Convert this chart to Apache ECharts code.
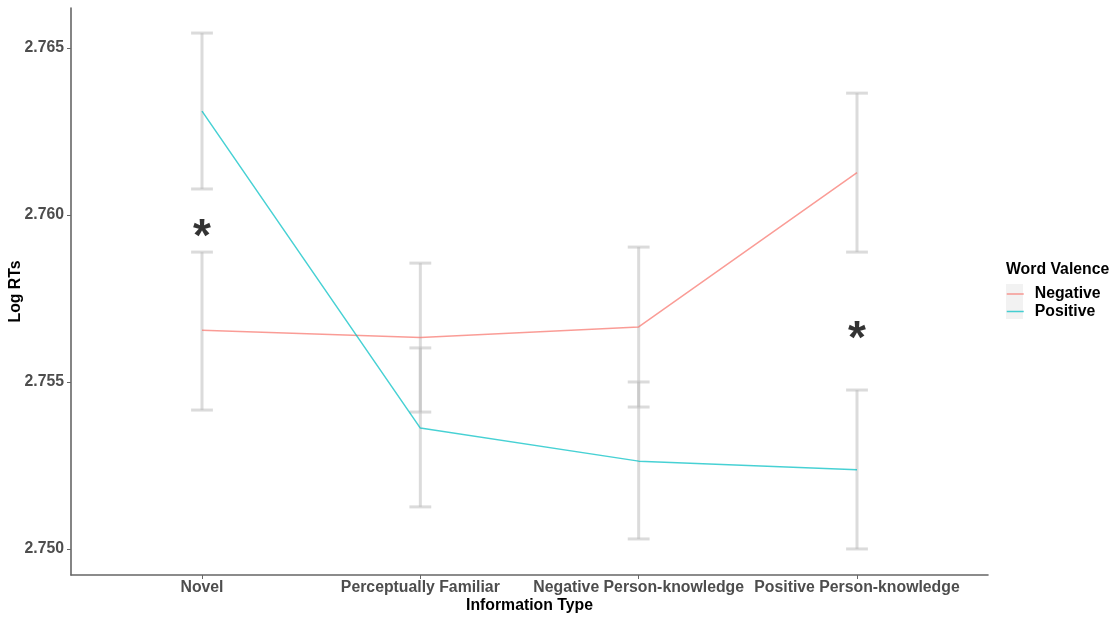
<!DOCTYPE html>
<html>
<head>
<meta charset="utf-8">
<script src="https://cdn.jsdelivr.net/npm/echarts@6/dist/echarts.min.js"></script>
<style>
  html, body { margin: 0; padding: 0; background: #ffffff; }
  #chart { width: 1118px; height: 617px; }
</style>
</head>
<body>
<div id="chart"></div>
<script>
// Information types on the x axis
const categories = ['Novel', 'Perceptually Familiar', 'Negative Person-knowledge', 'Positive Person-knowledge'];

// Mean log RTs and error-bar limits per word valence
const negativeMean  = [2.75655, 2.75633, 2.75665, 2.76127];
const negativeLower = [2.75416, 2.75410, 2.75425, 2.75889];
const negativeUpper = [2.75889, 2.75856, 2.75904, 2.76365];

const positiveMean  = [2.76311, 2.75362, 2.75263, 2.75237];
const positiveLower = [2.76078, 2.75126, 2.75030, 2.75000];
const positiveUpper = [2.76545, 2.75602, 2.75500, 2.75476];

// Y axis tick values
const yTicks = [2.750, 2.755, 2.760, 2.765];

// Significance markers: [category index, log RT]
const starMarks = [[0, 2.75961], [3, 2.75656]];

const FONT = '"Liberation Sans", Arial, sans-serif';
const FONT_SIZE = 15.8;
const NEG_COLOR = '#F8766D';
const POS_COLOR = '#00BFC4';
const LINE_OPACITY = 0.72;

const xIdx = categories.map((_, i) => i);
const negLine = xIdx.map(i => [i, negativeMean[i]]);
const posLine = xIdx.map(i => [i, positiveMean[i]]);
const errorData = xIdx.map(i => [i, negativeLower[i], negativeUpper[i]])
  .concat(xIdx.map(i => [i, positiveLower[i], positiveUpper[i]]));

function renderErrorBar(params, api) {
  const x = api.value(0);
  const lo = api.coord([x, api.value(1)]);
  const hi = api.coord([x, api.value(2)]);
  const half = api.size([0.1, 0])[0] / 2;
  const style = { stroke: 'rgba(190,190,190,0.55)', lineWidth: 3 };
  return {
    type: 'group',
    children: [
      { type: 'line', shape: { x1: hi[0], y1: hi[1], x2: lo[0], y2: lo[1] }, style: style },
      { type: 'line', shape: { x1: hi[0] - half, y1: hi[1], x2: hi[0] + half, y2: hi[1] }, style: style },
      { type: 'line', shape: { x1: lo[0] - half, y1: lo[1], x2: lo[0] + half, y2: lo[1] }, style: style }
    ]
  };
}

const chart = echarts.init(document.getElementById('chart'), null, { renderer: 'canvas' });

chart.setOption({
  animation: false,
  backgroundColor: '#ffffff',
  textStyle: { fontFamily: FONT },
  grid: { left: 71, right: 130, top: 8, bottom: 42, outerBoundsMode: 'none', containLabel: false },
  title: {
    text: 'Word Valence',
    left: 1006,
    top: 262,
    padding: 0,
    textStyle: { fontFamily: FONT, fontSize: FONT_SIZE, fontWeight: 'bold', color: '#000000' }
  },
  legend: {
    orient: 'vertical',
    left: 1006,
    top: 286,
    padding: 0,
    itemGap: 1.5,
    itemWidth: 17,
    itemHeight: 17,
    itemStyle: { opacity: 0 },
    lineStyle: { width: 1.5, opacity: LINE_OPACITY },
    data: ['Negative', 'Positive'],
    textStyle: { fontFamily: FONT, fontSize: FONT_SIZE, fontWeight: 'bold', color: '#000000', padding: [0, 0, 0, 6] }
  },
  graphic: [{
    type: 'rect',
    left: 1006,
    top: 284,
    z: -1,
    shape: { width: 17, height: 35 },
    style: { fill: '#f2f2f2' }
  }],
  xAxis: {
    type: 'value',
    min: -0.6,
    max: 3.6,
    name: 'Information Type',
    nameLocation: 'middle',
    nameGap: 23,
    nameMoveOverlap: false,
    nameTextStyle: { fontFamily: FONT, fontSize: FONT_SIZE, fontWeight: 'bold', color: '#000000' },
    splitLine: { show: false },
    axisLine: { show: true, onZero: false, lineStyle: { color: '#666666', width: 1.6 } },
    axisTick: { show: true, length: 4, customValues: xIdx, lineStyle: { color: '#666666', width: 1 } },
    axisLabel: {
      customValues: xIdx,
      margin: 5,
      fontFamily: FONT,
      fontSize: FONT_SIZE,
      fontWeight: 'bold',
      color: '#4d4d4d',
      formatter: v => categories[Math.round(v)]
    }
  },
  yAxis: {
    type: 'value',
    min: 2.74922,
    max: 2.76620,
    name: 'Log RTs',
    nameLocation: 'middle',
    nameGap: 47,
    nameMoveOverlap: false,
    nameTextStyle: { fontFamily: FONT, fontSize: FONT_SIZE, fontWeight: 'bold', color: '#000000' },
    splitLine: { show: false },
    axisLine: { show: true, onZero: false, lineStyle: { color: '#666666', width: 1.6 } },
    axisTick: { show: true, length: 4, customValues: yTicks, lineStyle: { color: '#666666', width: 1 } },
    axisLabel: {
      customValues: yTicks,
      margin: 7,
      fontFamily: FONT,
      fontSize: FONT_SIZE,
      fontWeight: 'bold',
      color: '#4d4d4d',
      formatter: v => v.toFixed(3)
    }
  },
  series: [
    {
      name: 'errorbars',
      type: 'custom',
      renderItem: renderErrorBar,
      data: errorData,
      encode: { x: 0, y: [1, 2] },
      z: 1,
      silent: true
    },
    {
      name: 'Negative',
      type: 'line',
      data: negLine,
      symbol: 'none',
      color: NEG_COLOR,
      lineStyle: { color: NEG_COLOR, width: 1.5, opacity: LINE_OPACITY },
      z: 3
    },
    {
      name: 'Positive',
      type: 'line',
      data: posLine,
      symbol: 'none',
      color: POS_COLOR,
      lineStyle: { color: POS_COLOR, width: 1.5, opacity: LINE_OPACITY },
      z: 3
    },
    {
      name: 'stars',
      type: 'scatter',
      data: starMarks,
      symbolSize: 1,
      itemStyle: { color: 'rgba(0,0,0,0)' },
      z: 4,
      label: {
        show: true,
        position: 'inside',
        offset: [0, 10],
        formatter: '*',
        fontFamily: FONT,
        fontSize: 46,
        fontWeight: 'bold',
        color: '#000000'
      }
    }
  ]
});
</script>
</body>
</html>
